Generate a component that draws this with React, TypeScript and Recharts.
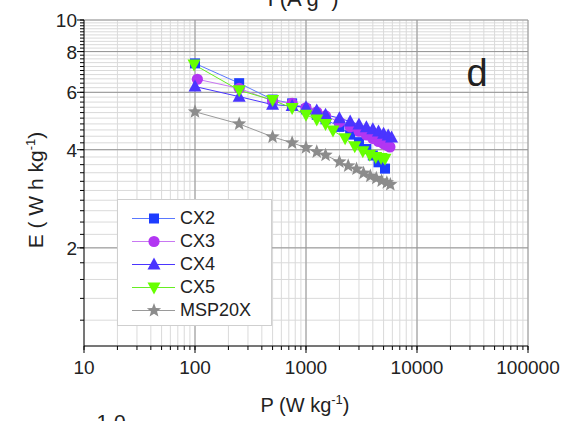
import { LineChart, Line, XAxis, YAxis, CartesianGrid, ReferenceLine, Legend } from 'recharts';

const FONT = 'Arial, "Liberation Sans", Helvetica, sans-serif';

// power density (W/kg) and energy density (Wh/kg) per electrode
const P_CX2 = [100, 250, 500, 750, 1000, 1250, 1500, 2000, 2500, 3000, 3500, 4000, 4500, 5150];
const E_CX2 = [7.36, 6.4, 5.7, 5.55, 5.32, 5.12, 4.96, 4.7, 4.45, 4.22, 4.02, 3.84, 3.66, 3.5];

const P_CX3 = [105, 250, 500, 750, 1000, 1250, 1500, 2000, 2500, 3000, 3500, 4000, 4500, 5000, 5400, 5700];
const E_CX3 = [6.58, 6.17, 5.65, 5.55, 5.38, 5.22, 5.08, 4.86, 4.7, 4.56, 4.44, 4.33, 4.24, 4.17, 4.12, 4.08];

const P_CX4 = [100, 250, 500, 750, 1000, 1250, 1500, 2000, 2500, 3000, 3500, 4000, 4500, 5000, 5500, 5900];
const E_CX4 = [6.25, 5.82, 5.5, 5.45, 5.4, 5.28, 5.12, 5.0, 4.88, 4.78, 4.69, 4.62, 4.55, 4.48, 4.42, 4.36];

const P_CX5 = [98, 250, 500, 750, 1000, 1250, 1500, 1750, 2250, 2750, 3250, 3750, 4250, 4750, 5150];
const E_CX5 = [7.3, 6.09, 5.68, 5.37, 5.12, 4.95, 4.8, 4.58, 4.34, 4.1, 3.96, 3.86, 3.8, 3.77, 3.75];

const P_MSP = [100, 250, 500, 750, 1000, 1250, 1500, 2000, 2400, 2850, 3300, 3800, 4300, 4800, 5350, 5750];
const E_MSP = [5.23, 4.8, 4.38, 4.2, 4.06, 3.94, 3.85, 3.67, 3.57, 3.49, 3.39, 3.32, 3.27, 3.21, 3.17, 3.13];

const X_MAJOR = [10, 100, 1000, 10000, 100000];
const X_MINOR = [
  20, 30, 40, 50, 60, 70, 80, 90,
  200, 300, 400, 500, 600, 700, 800, 900,
  2000, 3000, 4000, 5000, 6000, 7000, 8000, 9000,
  20000, 30000, 40000, 50000, 60000, 70000, 80000, 90000,
];
const Y_MAJOR = [2, 4, 6, 8, 10];
const Y_MINOR: number[] = [];
for (let i = 6; i < 50; i++) {
  const v = Math.round(i * 2) / 10;
  if (!Y_MAJOR.includes(v)) Y_MINOR.push(v);
}

const toRows = (p: number[], e: number[]) => p.map((P, i) => ({ P, E: e[i] }));

const SERIES = [
  { name: 'CX2', data: toRows(P_CX2, E_CX2), color: '#1d3cff', line: '#5a78ff', shape: 'square' },
  { name: 'CX3', data: toRows(P_CX3, E_CX3), color: '#b236f2', line: '#c878f2', shape: 'circle' },
  { name: 'CX4', data: toRows(P_CX4, E_CX4), color: '#4a35ff', line: '#4a35ff', shape: 'up' },
  { name: 'CX5', data: toRows(P_CX5, E_CX5), color: '#66ff00', line: '#66ee22', shape: 'down' },
  { name: 'MSP20X', data: toRows(P_MSP, E_MSP), color: '#8c8c8c', line: '#9a9a9a', shape: 'star' },
];

function marker(shape: string, cx: number, cy: number, color: string, key?: any) {
  if (cx == null || cy == null) return <g key={key} />;
  if (shape === 'square') return <rect key={key} x={cx - 5} y={cy - 5} width={10} height={10} fill={color} />;
  if (shape === 'circle') return <circle key={key} cx={cx} cy={cy} r={5.6} fill={color} />;
  if (shape === 'up')
    return <polygon key={key} points={`${cx},${cy - 7} ${cx + 6.5},${cy + 5} ${cx - 6.5},${cy + 5}`} fill={color} />;
  if (shape === 'down')
    return <polygon key={key} points={`${cx},${cy + 7} ${cx + 6.5},${cy - 5} ${cx - 6.5},${cy - 5}`} fill={color} />;
  const pts: string[] = [];
  for (let i = 0; i < 10; i++) {
    const r = i % 2 === 0 ? 7.5 : 3.2;
    const a = -Math.PI / 2 + (i * Math.PI) / 5;
    pts.push(`${cx + r * Math.cos(a)},${cy + r * Math.sin(a)}`);
  }
  return <polygon key={key} points={pts.join(' ')} fill={color} />;
}

const XTick = (props: any) => {
  const { x, y, payload } = props;
  const axisY = y - 6;
  if (!X_MAJOR.includes(payload.value)) return <g />;
  return (
    <g>
      <line x1={x} x2={x} y1={axisY} y2={axisY + 7} stroke="#000" />
      <text x={x} y={axisY + 28} textAnchor="middle" fontSize={19} fill="#222" fontFamily={FONT}>
        {payload.value}
      </text>
    </g>
  );
};

const YTick = (props: any) => {
  const { x, y, payload } = props;
  const axisX = x + 6;
  if (!Y_MAJOR.includes(payload.value)) return <g />;
  return (
    <g>
      <line x1={axisX - 7} x2={axisX} y1={y} y2={y} stroke="#000" />
      <text x={axisX - 7} y={y + 7} textAnchor="end" fontSize={19} fill="#222" fontFamily={FONT}>
        {payload.value}
      </text>
    </g>
  );
};

const renderLegend = () => (
  <div
    style={{
      width: 155, height: 127, boxSizing: 'border-box', border: '1px solid #cfcfcf',
      background: '#fff', paddingTop: 7, fontFamily: FONT, fontSize: 18, color: '#222',
    }}
  >
    {SERIES.map((s) => (
      <div key={s.name} style={{ display: 'flex', alignItems: 'center', height: 23 }}>
        <svg width={62} height={23} style={{ display: 'block' }}>
          <line x1={14} x2={57} y1={11.5} y2={11.5} stroke={s.line} strokeWidth={1} />
          {marker(s.shape, 36, 11.5, s.color)}
        </svg>
        <span style={{ lineHeight: '23px' }}>{s.name}</span>
      </div>
    ))}
  </div>
);

export default function App() {
  return (
    <div style={{ position: 'absolute', left: 0, top: 0, width: 572, height: 421, background: '#fff', overflow: 'hidden' }}>
      <LineChart width={572} height={421} margin={{ top: 20, right: 44, bottom: 0, left: 0 }}>
        <CartesianGrid stroke="#dadada" strokeWidth={1} />
        <XAxis
          dataKey="P"
          type="number"
          scale="log"
          domain={[10, 100000]}
          allowDataOverflow
          ticks={[...X_MAJOR, ...X_MINOR].sort((a, b) => a - b)}
          interval={0}
          height={75}
          tickSize={4}
          tickMargin={2}
          tick={<XTick />}
          axisLine={{ stroke: '#000' }}
          tickLine={{ stroke: '#000' }}
        />
        <YAxis
          type="number"
          scale="log"
          domain={[1, 10]}
          allowDataOverflow
          ticks={[...Y_MINOR, ...Y_MAJOR].sort((a, b) => a - b)}
          interval={0}
          width={84}
          tickSize={4}
          tickMargin={2}
          tick={<YTick />}
          axisLine={{ stroke: '#000' }}
          tickLine={{ stroke: '#000' }}
        />
        {X_MAJOR.slice(1).map((v) => (
          <ReferenceLine key={'x' + v} x={v} stroke="#949494" />
        ))}
        {Y_MAJOR.map((v) => (
          <ReferenceLine key={'y' + v} y={v} stroke="#949494" />
        ))}
        <Legend
          layout="vertical"
          align="center"
          verticalAlign="middle"
          content={renderLegend}
          wrapperStyle={{ left: 117, top: 199, width: 155, height: 127 }}
        />
        {SERIES.map((s) => (
          <Line
            key={s.name}
            name={s.name}
            data={s.data}
            dataKey="E"
            stroke={s.line}
            strokeWidth={1}
            isAnimationActive={false}
            dot={(p: any) => marker(s.shape, p.cx, p.cy, s.color, p.index)}
            activeDot={false}
          />
        ))}
      </LineChart>
      <svg
        width={572}
        height={421}
        style={{ position: 'absolute', left: 0, top: 0, pointerEvents: 'none' }}
        fontFamily={FONT}
        fill="#222"
      >
        <text x={303} y={6} textAnchor="middle" fontSize={22}>
          I (A g<tspan dy={-9} fontSize={14}>-1</tspan><tspan dy={9}>)</tspan>
        </text>
        <text x={477} y={86} textAnchor="middle" fontSize={38}>d</text>
        <text transform="translate(43,190) rotate(-90)" textAnchor="middle" fontSize={21}>
          E ( W h kg<tspan dy={-8} fontSize={13}>-1</tspan><tspan dy={8}>)</tspan>
        </text>
        <text x={305} y={412} textAnchor="middle" fontSize={20}>
          P (W kg<tspan dy={-8} fontSize={13}>-1</tspan><tspan dy={8}>)</tspan>
        </text>
        <text x={111} y={429} textAnchor="middle" fontSize={21}>1.0</text>
      </svg>
    </div>
  );
}
